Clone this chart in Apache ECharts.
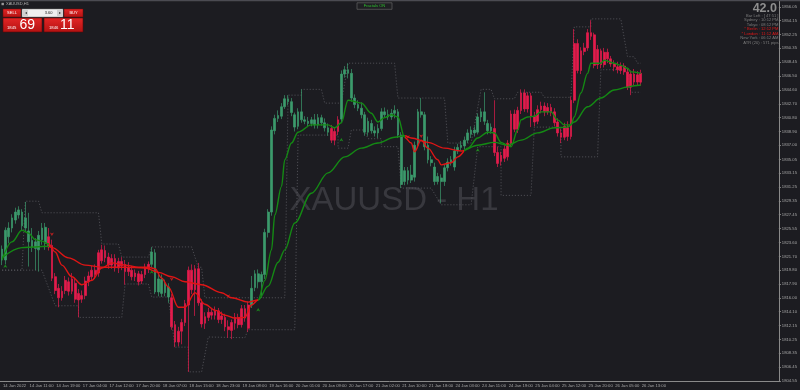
<!DOCTYPE html>
<html><head><meta charset="utf-8">
<script src="https://cdn.jsdelivr.net/npm/echarts/dist/echarts.min.js"></script>
<style>html,body{margin:0;padding:0;background:#1c1c21}#c{width:800px;height:390px}</style>
</head><body><div id="c"></div>
<script>
// ---------------- DATA ----------------
const timeLabels = ['14 Jan 2022','14 Jan 11:00','14 Jan 19:00','17 Jan 04:00','17 Jan 12:00','17 Jan 20:00','18 Jan 07:00','18 Jan 15:00','18 Jan 23:00','19 Jan 08:00','19 Jan 16:00','20 Jan 01:00','20 Jan 09:00','20 Jan 17:00','21 Jan 02:00','21 Jan 10:00','21 Jan 18:00','24 Jan 03:00','24 Jan 11:00','24 Jan 19:00','25 Jan 04:00','25 Jan 12:00','25 Jan 20:00','26 Jan 05:00','26 Jan 13:00'];
const priceTicks = [1804.55,1806.45,1808.35,1810.25,1812.15,1814.10,1816.00,1817.90,1819.80,1821.70,1823.60,1825.55,1827.45,1829.35,1831.25,1833.15,1835.05,1837.00,1838.90,1840.80,1842.70,1844.60,1846.50,1848.45,1850.35,1852.25,1854.15,1856.05];

const opens = [1822.7,1821.2,1824.4,1825.6,1826.7,1827.4,1827.8,1825.6,1825.2,1823.9,
1822.8,1822.6,1824.0,1823.5,1824.4,1823.2,1818.9,1817.3,1816.0,1817.0,
1818.2,1816.9,1818.0,1816.6,1815.8,1816.3,1818.2,1818.9,1819.8,1819.4,
1821.1,1822.5,1821.6,1820.5,1821.4,1820.1,1821.0,1820.6,1819.6,1819.8,
1818.9,1819.3,1818.3,1819.2,1820.0,1820.6,1822.2,1816.8,1818.5,1816.7,
1817.5,1816.0,1812.3,1809.9,1811.4,1812.6,1815.0,1819.8,1817.1,1820.0,
1815.3,1812.5,1813.3,1814.0,1813.6,1814.2,1813.0,1813.3,1812.0,1811.5,
1812.5,1813.3,1812.3,1814.5,1811.8,1815.0,1817.4,1819.3,1818.2,1819.2,
1825.0,1827.8,1839.0,1840.7,1841.0,1842.3,1843.4,1843.0,1841.2,1839.6,
1841.6,1840.5,1840.3,1840.0,1840.5,1839.8,1840.8,1840.1,1839.4,1839.3,
1837.7,1838.9,1840.6,1846.8,1847.4,1846.9,1843.5,1842.6,1842.1,1841.2,
1838.8,1840.0,1839.0,1838.7,1839.3,1841.6,1841.2,1840.9,1841.4,1841.6,
1838.4,1832.0,1833.5,1832.2,1832.6,1837.0,1841.6,1841.2,1837.0,1835.0,
1834.0,1832.0,1832.5,1832.0,1833.9,1834.7,1834.0,1836.2,1836.7,1836.9,
1837.7,1838.5,1839.1,1838.8,1840.9,1841.6,1840.0,1839.0,1839.3,1836.0,
1834.8,1835.2,1835.4,1837.2,1841.3,1839.2,1841.8,1844.2,1842.0,1843.8,
1841.0,1840.3,1841.9,1842.4,1841.6,1842.2,1841.6,1840.2,1838.7,1838.1,
1839.4,1838.2,1843.2,1851.0,1847.3,1849.9,1850.4,1852.5,1852.2,1848.1,
1850.0,1848.1,1849.8,1848.9,1848.2,1847.8,1847.3,1847.9,1847.1,1845.0,
1846.8,1845.7,1846.9];
const closes = [1821.2,1825.3,1825.6,1827.0,1827.8,1828.1,1825.9,1827.0,1823.7,1823.0,
1823.7,1824.6,1825.6,1825.7,1823.0,1818.7,1817.0,1816.0,1816.9,1818.4,
1816.9,1818.6,1815.8,1815.7,1816.3,1818.3,1819.0,1819.8,1819.2,1822.2,
1822.6,1821.5,1820.5,1821.4,1820.1,1821.0,1820.4,1819.6,1820.2,1818.9,
1819.4,1818.2,1819.2,1820.2,1820.6,1822.3,1816.8,1818.6,1816.6,1818.0,
1816.1,1812.0,1809.9,1811.4,1812.6,1815.2,1819.8,1817.1,1820.0,1815.3,
1812.4,1813.4,1814.0,1813.6,1814.2,1813.0,1813.5,1812.0,1811.6,1812.6,
1813.3,1812.3,1814.5,1813.2,1815.0,1817.3,1819.3,1818.2,1819.2,1825.0,
1827.8,1839.1,1840.7,1841.1,1842.3,1843.4,1843.0,1841.5,1839.5,1841.6,
1840.5,1840.3,1840.0,1840.5,1839.8,1840.8,1840.1,1839.4,1838.8,1837.7,
1838.9,1840.5,1846.8,1847.4,1846.9,1843.5,1842.6,1842.1,1841.2,1838.8,
1840.3,1839.0,1838.7,1839.3,1841.6,1841.2,1840.9,1841.4,1841.8,1838.4,
1831.6,1833.5,1832.2,1832.9,1837.0,1841.6,1841.2,1836.8,1835.0,1834.6,
1832.0,1832.7,1832.0,1833.9,1834.7,1835.0,1836.2,1836.7,1837.0,1837.7,
1838.7,1839.1,1838.7,1840.9,1841.6,1840.3,1839.0,1839.5,1836.0,1834.5,
1835.6,1836.5,1837.2,1841.3,1839.2,1841.8,1844.2,1842.0,1843.8,1841.0,
1840.2,1841.9,1842.4,1841.6,1842.2,1841.5,1840.1,1838.7,1838.1,1839.6,
1838.2,1843.2,1851.0,1847.3,1850.0,1850.4,1852.5,1852.0,1848.0,1850.2,
1848.1,1849.8,1848.9,1848.2,1847.8,1847.4,1847.9,1847.1,1845.0,1846.8,
1845.7,1846.7,1845.69];
const lows = [1820.5,1820.6,1823.5,1825.0,1826.2,1826.9,1825.3,1825.2,1820.3,1822.3,
1819.8,1819.6,1823.3,1822.6,1822.5,1818.3,1816.5,1814.7,1815.6,1816.5,
1816.3,1816.5,1815.3,1813.3,1815.3,1815.8,1817.6,1818.3,1818.6,1818.9,
1820.7,1820.9,1820.0,1820.0,1819.6,1819.4,1819.8,1817.8,1819.0,1818.4,
1818.3,1817.7,1817.9,1818.7,1819.4,1820.2,1816.5,1816.2,1816.1,1816.2,
1815.3,1811.6,1809.2,1809.3,1809.6,1812.1,1805.8,1816.5,1813.5,1814.9,
1811.9,1811.7,1812.8,1813.0,1813.0,1812.5,1812.4,1811.4,1810.5,1810.3,
1811.6,1811.8,1811.9,1812.7,1811.3,1814.6,1816.9,1817.3,1816.0,1818.6,
1824.3,1827.3,1838.5,1840.2,1840.6,1842.0,1842.5,1841.0,1838.9,1839.2,
1840.1,1839.9,1839.5,1839.6,1839.3,1839.3,1839.7,1838.9,1838.3,1837.3,
1837.0,1838.4,1840.1,1846.3,1846.2,1843.0,1842.1,1841.7,1840.7,1838.3,
1838.3,1838.6,1838.2,1838.0,1839.0,1840.8,1840.5,1840.5,1840.7,1838.0,
1831.1,1831.5,1831.6,1831.8,1832.0,1836.6,1840.8,1836.3,1834.5,1834.1,
1831.5,1831.6,1829.0,1831.4,1833.4,1834.2,1833.5,1835.8,1836.3,1836.4,
1837.3,1838.0,1838.2,1838.5,1840.2,1839.8,1838.5,1838.6,1835.5,1834.0,
1834.2,1834.7,1834.9,1836.9,1838.8,1838.7,1841.3,1841.6,1841.5,1839.5,
1839.6,1839.9,1841.4,1841.0,1841.2,1841.0,1839.6,1838.2,1837.3,1837.7,
1837.6,1837.8,1842.8,1846.9,1846.8,1849.4,1850.0,1851.5,1847.6,1847.5,
1847.6,1847.7,1848.3,1847.8,1847.2,1846.9,1846.8,1846.7,1844.6,1843.9,
1845.2,1845.3,1845.2];
const highs = [1823.2,1825.7,1826.4,1827.5,1828.4,1828.6,1828.2,1829.2,1827.7,1825.6,
1824.2,1825.2,1826.3,1826.3,1825.6,1824.0,1819.4,1817.9,1817.6,1819.0,
1818.8,1819.4,1818.6,1817.2,1817.0,1818.9,1819.6,1820.4,1820.6,1822.6,
1823.3,1823.2,1822.2,1822.0,1822.0,1821.5,1821.6,1821.2,1820.9,1820.4,
1819.9,1819.7,1819.7,1820.7,1821.0,1823.0,1822.7,1819.2,1819.2,1818.5,
1818.0,1816.5,1812.8,1812.0,1813.1,1815.7,1820.3,1820.6,1820.5,1820.8,
1815.8,1814.0,1814.6,1814.6,1814.8,1814.6,1814.1,1813.8,1812.9,1813.0,
1813.9,1813.8,1815.0,1815.0,1815.5,1819.0,1819.8,1819.9,1819.6,1825.5,
1828.2,1839.6,1841.2,1841.8,1842.8,1843.9,1843.9,1843.5,1841.5,1842.1,
1844.7,1841.0,1840.9,1840.9,1841.3,1841.3,1841.2,1840.7,1840.0,1839.8,
1839.4,1841.0,1847.3,1847.9,1848.3,1847.5,1844.0,1843.2,1842.9,1841.6,
1840.8,1840.5,1839.6,1839.9,1842.1,1842.2,1841.9,1842.0,1842.5,1842.0,
1838.8,1834.0,1834.0,1834.3,1837.5,1842.0,1843.5,1841.6,1838.2,1835.5,
1834.6,1833.2,1833.0,1834.3,1835.2,1835.5,1836.8,1837.2,1837.6,1838.2,
1839.2,1839.6,1839.6,1841.4,1842.1,1844.3,1840.5,1840.0,1843.2,1836.8,
1836.1,1837.0,1837.7,1841.8,1841.9,1842.3,1844.7,1844.7,1844.3,1844.2,
1841.6,1842.5,1843.0,1842.9,1842.8,1842.7,1842.1,1840.7,1839.3,1840.1,
1840.3,1843.7,1853.0,1851.6,1850.5,1851.1,1853.0,1854.2,1852.5,1850.8,
1850.3,1850.4,1850.3,1849.3,1848.7,1848.5,1848.4,1848.3,1847.6,1847.3,
1847.5,1847.2,1847.4];
// candle colouring regimes [firstBar, lastBar, trend]
const candleRegimes = [[0,13,'up'],[14,44,'down'],[45,50,'up'],[51,74,'down'],[75,98,'up'],[99,101,'down'],[102,147,'up'],[148,192,'down']];

// moving averages, read as [bar, price]
const maFast = [[0,1821.2],[3,1823.7],[6,1825.3],[8,1824.9],[10,1824.0],[12,1823.8],[14,1823.4],[16,1822.3],[18,1820.5],[21,1818.9],[24,1817.8],[27,1818.4],[30,1820.1],[33,1820.8],[37,1820.5],[41,1820.2],[44,1820.2],[46,1820.0],[48,1818.7],[50,1817.5],[53,1814.7],[55,1814.7],[58,1816.7],[61,1815.1],[64,1814.3],[67,1813.6],[70,1813.2],[73,1813.3],[75,1815.0],[77,1815.7],[79,1818.4],[80.5,1822.6],[82,1827.4],[83.5,1831.3],[85,1835.0],[86.5,1837.3],[88.5,1838.8],[92.5,1839.8],[97.5,1839.8],[100,1839.4],[101.5,1840.1],[104,1843.2],[107.5,1842.8],[110.5,1841.4],[113,1840.2],[114.5,1840.8],[117,1841.2],[118.5,1840.9],[120.5,1838.1],[122.5,1837.3],[124,1836.1],[125.5,1837.7],[127.5,1836.6],[130.5,1835.0],[132,1834.3],[135,1834.6],[136.5,1835.4],[139.5,1836.6],[142.5,1838.0],[145.5,1838.8],[147.5,1838.7],[149.5,1837.4],[151.5,1837.0],[152.5,1836.8],[154.5,1839.1],[156,1840.5],[157.5,1840.9],[159.5,1841.0],[161.5,1841.6],[164.5,1841.6],[166.5,1840.5],[168.5,1839.8],[170.5,1839.8],[171.5,1840.9],[173.5,1844.2],[175.5,1846.9],[177,1848.3],[179.5,1848.3],[181,1848.7],[183.5,1848.3],[185.5,1848.0],[187.5,1847.6],[189,1847.1],[192,1846.9]];
const maSlow = [[0,1821.5],[6,1822.9],[10,1823.0],[13.5,1823.1],[15,1822.9],[20,1821.5],[25,1820.5],[30,1820.2],[37,1820.2],[43,1820.1],[47,1819.5],[51,1818.9],[55,1818.2],[60,1817.8],[65.5,1816.7],[69,1816.0],[73.5,1815.4],[77,1815.7],[80,1817.6],[82.5,1820.9],[84.5,1822.6],[87.5,1826.3],[92.5,1830.4],[97.5,1833.2],[102.5,1835.4],[107.5,1836.6],[112.5,1837.3],[117.5,1838.1],[120.5,1838.3],[122.5,1838.0],[127.5,1837.4],[132.5,1836.6],[137.5,1836.2],[142.5,1837.0],[147.5,1837.4],[151.5,1837.0],[155.5,1837.7],[160.5,1838.7],[165.5,1839.4],[169.5,1839.5],[171.5,1840.2],[175.5,1842.3],[179.5,1843.5],[183.5,1844.6],[187.5,1845.0],[189.5,1845.2],[192,1845.3]];
const maRegimes = [[0,14,'up'],[14,76.5,'down'],[76.5,120.5,'up'],[120.5,138.5,'down'],[138.5,200,'up']];

// dotted fractal levels, vertices [bar, price]
const upperBand = [[0,1819.8],[6.1,1819.8],[7.3,1829.3],[10.9,1829.3],[12.1,1827.7],[28.9,1827.7],[29.8,1823.4],[34.9,1823.4],[36.1,1821.6],[43.6,1821.6],[45.1,1823.0],[57.4,1823.0],[58.6,1820.2],[60.4,1820.2],[61.3,1816.0],[85.0,1816.0],[85.9,1843.9],[89.5,1843.9],[90.1,1844.7],[96.1,1844.7],[97.0,1842.8],[101.5,1842.8],[103.9,1848.3],[118.0,1848.3],[118.9,1843.5],[133.0,1843.5],[133.9,1837.3],[141.4,1837.3],[143.8,1844.7],[147.4,1844.7],[148.3,1843.4],[153.7,1843.4],[154.6,1844.3],[162.1,1844.3],[162.7,1843.6],[171.4,1843.6],[172.3,1853.3],[176.5,1853.3],[177.1,1854.4],[186.4,1854.4],[187.6,1849.2],[190.0,1849.2],[190.6,1848.3],[192.4,1848.3]];
const lowerBand = [[0,1819.8],[11.5,1819.8],[16.0,1814.9],[22.9,1814.9],[23.2,1813.3],[35.5,1813.3],[37.0,1817.9],[43.6,1817.9],[45.4,1816.1],[49.9,1816.1],[52.0,1809.2],[55.9,1809.2],[56.2,1805.8],[60.1,1805.8],[61.6,1810.6],[73.0,1810.5],[73.6,1811.6],[88.0,1811.6],[88.6,1838.4],[100.6,1838.4],[101.2,1836.6],[103.9,1836.6],[104.5,1839.1],[109.0,1839.1],[109.6,1837.9],[113.5,1837.9],[114.1,1836.8],[118.9,1836.8],[120.1,1831.1],[129.4,1831.1],[132.1,1828.8],[141.4,1828.8],[142.9,1836.8],[149.5,1836.8],[150.4,1830.1],[159.1,1830.1],[159.7,1839.5],[168.1,1839.5],[168.4,1835.4],[178.6,1835.4],[179.5,1847.4],[187.6,1847.4],[188.5,1844.3],[192.4,1844.3]];

// small signal arrows [bar, price, trend]
const signalMarks = [[1,1820.6,'up'],[15,1824.5,'down'],[45,1819.8,'up'],[51,1818.3,'down'],[68,1816.0,'down'],[77,1814.6,'up'],[102,1838.0,'up'],[122,1837.9,'down'],[126,1838.0,'down'],[143,1836.6,'up'],[152,1836.9,'down']];

const infoLines = [['Bar Left : [ 47:51 ]','#7c7c7c'],['Sydney : 10:12 PM','#7c7c7c'],['Tokyo : 08:12 PM','#7c7c7c'],['* Berlin : 12:12 PM','#e01818'],['* London : 11:12 AM','#e01818'],['New York : 06:12 AM','#7c7c7c'],['ATR (20) : 571 pips','#7c7c7c']];

// ---------------- CHART ----------------
const FONT = '"Liberation Sans", Arial, sans-serif';
const GREEN_C = '#3b9a6b', RED_C = '#e41b4c';
const MA_UP = '#138a13', MA_DN = '#e01414';
const N_CAT = 234;
const categories = Array.from({length: N_CAT}, (_, i) => String(i));

function regimeOf(i) {
  for (const r of candleRegimes) if (i >= r[0] && i <= r[1]) return r[2];
  return 'up';
}
const candleData = opens.map((o, i) => {
  const c = regimeOf(i) === 'up' ? GREEN_C : RED_C;
  return {value: [o, closes[i], lows[i], highs[i]], itemStyle: {color: c, color0: c, borderColor: c, borderColor0: c}};
});
const tickShown = (idx) => idx % 8 === 0 && idx / 8 < timeLabels.length;

const chart = echarts.init(document.getElementById('c'), null, {renderer: 'canvas'});
const t = (x, y, text, size, fill, align, extra) => Object.assign({
  type: 'text', x, y, z: 50,
  style: {text, font: size + 'px ' + FONT, fill, align: align || 'left', verticalAlign: 'middle', textAlign: align || 'left', textVerticalAlign: 'middle'}
}, extra || {});
const redGrad = () => new echarts.graphic.LinearGradient(0, 0, 0, 1, [{offset: 0, color: '#e32626'}, {offset: 1, color: '#b31212'}]);

const graphics = [
  {type: 'rect', z: 50, shape: {x: 0, y: 0, width: 800, height: 1.2}, style: {fill: '#4b4b52'}},
  {type: 'text', x: 394, y: 201, z: -1, style: {text: 'XAUUSD - H1', font: '33px ' + FONT, fill: '#38383e', align: 'center', verticalAlign: 'middle', textAlign: 'center', textVerticalAlign: 'middle'}},
  {type: 'rect', z: 50, shape: {x: 1.5, y: 2.8, width: 2.4, height: 2.4}, style: {fill: '#9a9a9a'}},
  t(6, 4.2, 'XAUUSD,H1', 4, '#b4b4b4'),
  {type: 'rect', z: 50, shape: {x: 3, y: 9, width: 18, height: 8}, style: {fill: redGrad(), stroke: '#6a0a0a', lineWidth: 0.5}},
  t(12, 13, 'SELL', 4, '#ffffff', 'center'),
  {type: 'rect', z: 50, shape: {x: 22, y: 9, width: 41, height: 8}, style: {fill: '#efefef', stroke: '#777777', lineWidth: 0.5}},
  {type: 'rect', z: 51, shape: {x: 23, y: 10, width: 5, height: 6}, style: {fill: '#cfcfcf'}},
  {type: 'rect', z: 51, shape: {x: 57, y: 10, width: 5, height: 6}, style: {fill: '#cfcfcf'}},
  t(25.5, 13, '◂', 4, '#333333', 'center', {z: 52}),
  t(59.5, 13, '▸', 4, '#333333', 'center', {z: 52}),
  t(52.5, 13, '3.60', 4, '#222222', 'right', {z: 52}),
  {type: 'rect', z: 50, shape: {x: 64, y: 9, width: 19, height: 8}, style: {fill: redGrad(), stroke: '#6a0a0a', lineWidth: 0.5}},
  t(73.5, 13, 'BUY', 4, '#ffffff', 'center'),
  {type: 'rect', z: 50, shape: {x: 3, y: 18, width: 39, height: 14}, style: {fill: redGrad(), stroke: '#5a0808', lineWidth: 0.6}},
  t(7, 27.8, '1845', 4.2, '#ffffff', 'left', {z: 52}),
  t(19.5, 25.5, '69', 14, '#ffffff', 'left', {z: 52}),
  {type: 'rect', z: 50, shape: {x: 44, y: 18, width: 39, height: 14}, style: {fill: redGrad(), stroke: '#5a0808', lineWidth: 0.6}},
  t(49, 27.8, '1846', 4.2, '#ffffff', 'left', {z: 52}),
  t(60, 25.5, '11', 14, '#ffffff', 'left', {z: 52}),
  {type: 'rect', z: 50, shape: {x: 357, y: 2.8, width: 35, height: 6.5}, style: {fill: '#1f1f23', stroke: '#6e6e6e', lineWidth: 0.6}},
  t(374.5, 6.1, 'Fractals ON', 4, '#2fc02f', 'center', {z: 52}),
  t(777, 8.2, '42.0', 12.5, '#8e8e8e', 'right', {style: {text: '42.0', font: 'bold 12.5px ' + FONT, fill: '#8e8e8e', align: 'right', verticalAlign: 'middle', textAlign: 'right', textVerticalAlign: 'middle'}})
];
infoLines.forEach((l, i) => graphics.push(t(778.5, 15.7 + i * 4.5, l[0], 4.1, l[1], 'right')));

const bandStyle = {color: '#58585e', width: 0.8, type: [1.2, 1.8]};

chart.setOption({
  backgroundColor: '#1c1c21',
  animation: false,
  grid: {left: 0, right: 20, top: 0, bottom: 9, containLabel: false},
  xAxis: {
    type: 'category', data: categories, boundaryGap: true,
    axisLine: {lineStyle: {color: '#8a8a8a', width: 1}},
    axisTick: {alignWithLabel: true, interval: tickShown, length: 2.5, lineStyle: {color: '#8a8a8a'}},
    axisLabel: {interval: tickShown, formatter: (v, idx) => timeLabels[idx / 8] || '', fontSize: 4.2, fontFamily: FONT, color: '#a6a6a6', align: 'left', margin: 2.5, padding: [0, 0, 0, 1]},
    splitLine: {show: false}
  },
  yAxis: {
    type: 'value', position: 'right', min: 1804.54, max: 1857.0, scale: true,
    axisLine: {show: true, lineStyle: {color: '#8a8a8a', width: 1}},
    axisTick: {show: true, length: 2, customValues: priceTicks, lineStyle: {color: '#8a8a8a'}},
    axisLabel: {customValues: priceTicks, formatter: v => v.toFixed(2), fontSize: 4.2, fontFamily: FONT, color: '#a6a6a6', margin: 3},
    splitLine: {show: false}
  },
  visualMap: {
    type: 'piecewise', show: false, dimension: 0, seriesIndex: [3, 4],
    pieces: maRegimes.map(r => ({gte: r[0], lt: r[1], color: r[2] === 'up' ? MA_UP : MA_DN}))
  },
  graphic: graphics,
  series: [
    {type: 'candlestick', data: candleData, barWidth: 2.2, itemStyle: {borderWidth: 0.7}, z: 3,
     markLine: {silent: true, symbol: 'none', lineStyle: {opacity: 0}, data: [{yAxis: closes[closes.length - 1]}],
       label: {position: 'end', distance: 1.5, formatter: p => Number(p.value).toFixed(2), backgroundColor: '#dedede', color: '#1a1a1a', fontSize: 4.2, fontFamily: FONT, padding: [1.3, 2]}}},
    {type: 'line', data: upperBand, showSymbol: false, lineStyle: bandStyle, z: 2},
    {type: 'line', data: lowerBand, showSymbol: false, lineStyle: bandStyle, z: 2},
    {type: 'line', data: maFast, showSymbol: false, smooth: 0.35, smoothMonotone: 'x', lineStyle: {width: 1.4}, z: 4},
    {type: 'line', data: maSlow, showSymbol: false, smooth: 0.35, smoothMonotone: 'x', lineStyle: {width: 1.4}, z: 4},
    {type: 'scatter', z: 5, symbol: 'arrow', symbolSize: [3, 3.5],
     data: signalMarks.map(s => ({value: [s[0], s[1]], symbolRotate: s[2] === 'up' ? 0 : 180, itemStyle: {color: s[2] === 'up' ? '#1aa01a' : '#e02020'}}))}
  ]
});
</script></body></html>
